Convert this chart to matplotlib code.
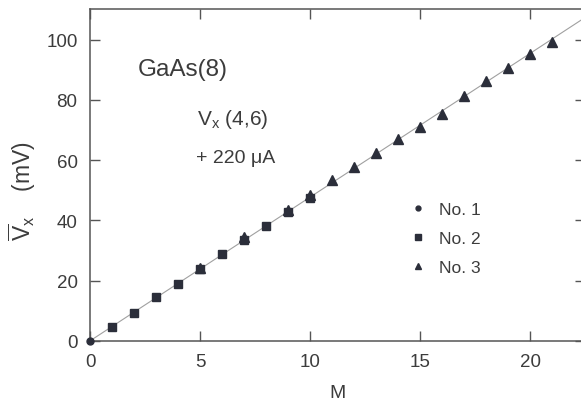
import matplotlib
matplotlib.use('Agg')
import matplotlib.pyplot as plt
import numpy as np

plt.rcParams['font.family'] = ['Liberation Sans', 'DejaVu Sans']
plt.rcParams['mathtext.fontset'] = 'custom'
plt.rcParams['mathtext.rm'] = 'Liberation Sans'
plt.rcParams['mathtext.it'] = 'Liberation Sans'

# 数据 (M, V_x in mV)
m_no1 = [0]
v_no1 = [0.0]

m_no2 = [1, 2, 3, 4, 5, 6, 7, 8, 9, 10]
v_no2 = [4.6, 9.4, 14.4, 19.0, 23.8, 29.0, 33.6, 38.1, 42.8, 47.4]

m_no3 = [5, 7, 9, 10, 11, 12, 13, 14, 15, 16, 17, 18, 19, 20, 21]
v_no3 = [24.3, 34.4, 43.6, 48.6, 53.4, 57.9, 62.3, 67.0, 70.9, 75.4, 81.2, 86.2, 90.6, 95.2, 99.4]

x_ticks = [0, 5, 10, 15, 20]
y_ticks = [0, 20, 40, 60, 80, 100]

ink = '#2b2e3a'
txt = '#3c3c3c'

fig = plt.figure(figsize=(5.81, 4.06), dpi=100)
ax = fig.add_axes([0.155, 0.158, 0.852, 0.818])

# 拟合直线
all_m = np.array(m_no1 + m_no2 + m_no3)
all_v = np.array(v_no1 + v_no2 + v_no3)
slope = np.sum(all_m * all_v) / np.sum(all_m ** 2)
fit_m = np.array([0, 23])
ax.plot(fit_m, slope * fit_m, color='#a0a0a0', linewidth=0.8, zorder=1)

ax.plot(m_no1, v_no1, 'o', color=ink, markersize=5, label='No. 1', zorder=4, clip_on=False)
ax.plot(m_no2, v_no2, 's', color=ink, markersize=6, label='No. 2', zorder=3)
ax.plot(m_no3, v_no3, '^', color=ink, markersize=7, label='No. 3', zorder=3)

ax.set_xlim(0, 22.5)
ax.set_ylim(0, 110.3)
ax.set_xticks(x_ticks)
ax.set_yticks(y_ticks)
ax.tick_params(direction='in', length=7, width=1, top=True, right=True,
               labelsize=13.5, labelcolor=txt, color='#555555', pad=9)
for s in ax.spines.values():
    s.set_color('#555555')
    s.set_linewidth(1.1)

ax.set_xlabel('M', fontsize=14, color=txt, labelpad=10)
ax.set_ylabel(r'$\overline{\mathrm{V}}_{\mathrm{x}}$    (mV)', fontsize=16.5, color=txt)
ax.yaxis.set_label_coords(-0.105, 0.455)

ax.text(2.15, 90.3, 'GaAs(8)', fontsize=17.5, color=txt, va='center', ha='left')
ax.text(4.85, 74.0, r'V$_{\mathrm{x}}$ (4,6)', fontsize=15, color=txt, va='center', ha='left')
ax.text(4.8, 61.0, '+ 220 \u03bcA', fontsize=14, color=txt, va='center', ha='left')

leg = ax.legend(loc='upper left', bbox_to_anchor=(0.613, 0.465), frameon=False,
                fontsize=12.5, markerscale=0.7, handlelength=1.0,
                handletextpad=0.7, labelspacing=0.78, numpoints=1)
for t in leg.get_texts():
    t.set_color(txt)

plt.savefig('out.png', dpi=100)
plt.close()
